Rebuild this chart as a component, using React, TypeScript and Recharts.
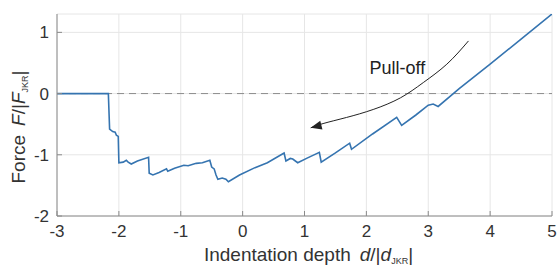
import { LineChart, Line, XAxis, YAxis, CartesianGrid, ReferenceLine, ReferenceDot } from 'recharts';

// indentation depth d/|d_JKR| and force F/|F_JKR|
const depth = [
  -3, -2.17, -2.15, -2.1, -2.06, -2.04, -2.01, -2.0, -1.93, -1.88, -1.85, -1.8, -1.7, -1.52,
  -1.51, -1.45, -1.35, -1.23, -1.21, -1.1, -0.95, -0.88, -0.75, -0.65, -0.53, -0.5, -0.46,
  -0.43, -0.4, -0.33, -0.27, -0.23, -0.05, 0.2, 0.4, 0.67, 0.7, 0.77, 0.81, 0.89, 1.05, 1.24,
  1.27, 1.5, 1.73, 1.76, 2.1, 2.49, 2.57, 2.8, 3.0, 3.08, 3.16, 3.5, 4.0, 4.5, 5.0
];
const force = [
  0, 0, -0.58, -0.62, -0.63, -0.68, -0.7, -1.13, -1.12, -1.09, -1.12, -1.15, -1.1, -1.04,
  -1.3, -1.33, -1.29, -1.23, -1.27, -1.22, -1.17, -1.18, -1.14, -1.13, -1.09, -1.2, -1.23,
  -1.33, -1.4, -1.38, -1.4, -1.44, -1.33, -1.21, -1.13, -0.97, -1.1, -1.06, -1.07, -1.13, -1.05, -0.96,
  -1.12, -0.97, -0.81, -0.91, -0.66, -0.39, -0.52, -0.35, -0.19, -0.17, -0.21, 0.08, 0.48, 0.89, 1.3
];

// "Pull-off" arrow path (from start to tip)
const arrowX = [3.65, 3.3, 2.92, 2.55, 2.11, 1.68, 1.3, 1.1];
const arrowY = [0.86, 0.48, 0.18, -0.07, -0.26, -0.39, -0.49, -0.56];

const xTicks = [-3, -2, -1, 0, 1, 2, 3, 4, 5];
const yTicks = [-2, -1, 0, 1];

const curve = depth.map((x, i) => ({ x, y: force[i] }));
const arrow = arrowX.map((x, i) => ({ x, y: arrowY[i] }));

const FONT = '"Liberation Sans", Arial, Helvetica, sans-serif';
const AXIS = '#8a8a8a';
const TEXT = '#333';

const ArrowHead = (props: any) => {
  const { cx, cy, index } = props;
  if (index !== arrow.length - 1) return <g key={index} />;
  return (
    <polygon
      key={index}
      points="0,0 -11,-4.5 -11,4.5"
      fill="#222"
      transform={`translate(${cx},${cy}) rotate(166)`}
    />
  );
};

const XLabel = ({ viewBox }: any) => {
  const cx = viewBox.x + viewBox.width / 2 + 4;
  return (
    <text x={cx} y={261} textAnchor="middle" fontSize={19} fill={TEXT} fontFamily={FONT}>
      <tspan>Indentation depth</tspan>
      <tspan dx={9} fontStyle="italic">d</tspan>
      <tspan>/|</tspan>
      <tspan fontStyle="italic">d</tspan>
      <tspan fontSize={9} dy={3}>JKR</tspan>
      <tspan dy={-3}>|</tspan>
    </text>
  );
};

const YLabel = ({ viewBox }: any) => {
  const cx = 25;
  const cy = viewBox.y + viewBox.height / 2 + 12;
  return (
    <text
      x={cx}
      y={cy}
      textAnchor="middle"
      fontSize={19}
      fill={TEXT}
      fontFamily={FONT}
      transform={`rotate(-90, ${cx}, ${cy})`}
    >
      <tspan>Force</tspan>
      <tspan dx={9} fontStyle="italic">F</tspan>
      <tspan>/|</tspan>
      <tspan fontStyle="italic">F</tspan>
      <tspan fontSize={9} dy={3}>JKR</tspan>
      <tspan dy={-3}>|</tspan>
    </text>
  );
};

export default function App() {
  const tick = { fontSize: 17, fill: TEXT, fontFamily: FONT };
  return (
    <div style={{ position: 'absolute', left: 0, top: 0, background: '#fff' }}>
      <LineChart width={557} height={267} margin={{ top: 14, right: 5, bottom: 0, left: 0 }}>
        <CartesianGrid stroke="#e6e6e6" />
        <XAxis
          type="number"
          dataKey="x"
          domain={[-3, 5]}
          ticks={xTicks}
          allowDataOverflow
          height={51}
          stroke={AXIS}
          tickSize={-5}
          tickMargin={14}
          tick={tick}
          label={<XLabel />}
        />
        <XAxis
          xAxisId="top"
          orientation="top"
          type="number"
          domain={[-3, 5]}
          ticks={xTicks}
          height={0}
          stroke={AXIS}
          tickSize={-5}
          tickFormatter={() => ''}
        />
        <YAxis
          type="number"
          domain={[-2, 1.3]}
          ticks={yTicks}
          allowDataOverflow
          width={57}
          stroke={AXIS}
          tickSize={-5}
          tickMargin={13}
          tick={tick}
          label={<YLabel />}
        />
        <YAxis
          yAxisId="right"
          orientation="right"
          type="number"
          domain={[-2, 1.3]}
          ticks={yTicks}
          width={0}
          stroke={AXIS}
          tickSize={-5}
          tickFormatter={() => ''}
        />
        <ReferenceLine y={0} stroke="#8c8c8c" strokeDasharray="7 5" />
        <Line
          data={curve}
          dataKey="y"
          type="linear"
          stroke="#3574b0"
          strokeWidth={1.6}
          dot={false}
          isAnimationActive={false}
        />
        <Line
          data={arrow}
          dataKey="y"
          type="natural"
          stroke="#222"
          strokeWidth={1}
          dot={ArrowHead}
          activeDot={false}
          isAnimationActive={false}
        />
        <ReferenceDot
          x={2.5}
          y={0.43}
          r={0}
          fill="none"
          stroke="none"
          label={{ value: 'Pull-off', position: 'center', fontSize: 18, fill: '#222', fontFamily: FONT }}
        />
      </LineChart>
    </div>
  );
}
